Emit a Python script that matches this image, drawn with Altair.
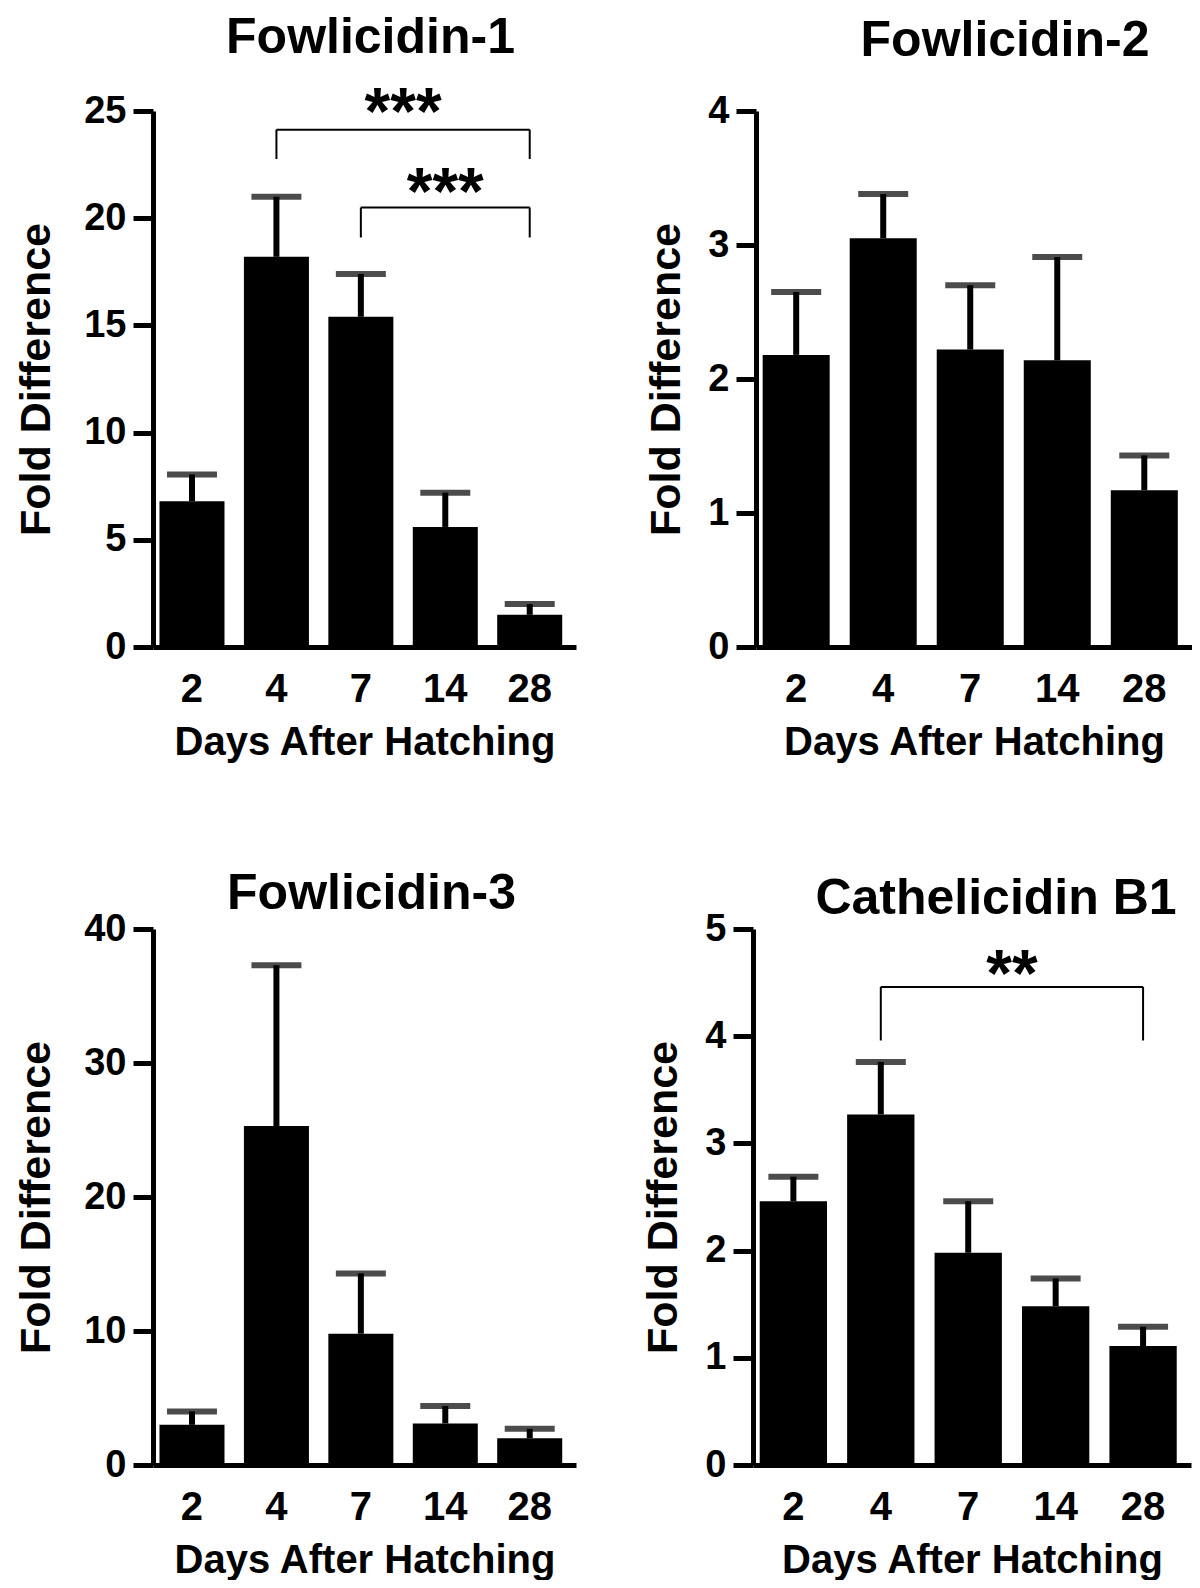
import altair as alt
import pandas as pd

days = ["2", "4", "7", "14", "28"]

f1_mean = [6.8, 18.2, 15.4, 5.6, 1.5]
f1_upper = [8.05, 21.0, 17.4, 7.2, 2.0]
f2_mean = [2.18, 3.05, 2.22, 2.14, 1.17]
f2_upper = [2.65, 3.38, 2.70, 2.91, 1.43]
f3_mean = [3.0, 25.3, 9.8, 3.1, 2.0]
f3_upper = [4.0, 37.3, 14.3, 4.4, 2.7]
b1_mean = [2.46, 3.27, 1.98, 1.48, 1.11]
b1_upper = [2.69, 3.76, 2.46, 1.74, 1.29]

# significance brackets: from day, to day, bracket level, drop level
f1_br_from = ["4", "7"]
f1_br_to = ["28", "28"]
f1_br_level = [24.13, 20.5]
f1_br_drop = [22.76, 19.1]
f1_star_day = ["7", "14"]
f1_star_level = [25.66, 21.9]
f1_star_text = ["***", "***"]
f1_star_half = [True, False]

b1_br_from = ["4"]
b1_br_to = ["28"]
b1_br_level = [4.46]
b1_br_drop = [3.96]
b1_star_day = ["7"]
b1_star_level = [4.72]
b1_star_text = ["**"]
b1_star_half = [True]

FONT = "Liberation Sans"


def panel(title, mean, upper, ymax, ystep, width, height, title_dx, title_offset,
          ytitle_pad, br=None, stars=None):
    df = pd.DataFrame({"day": days, "mean": mean, "upper": upper})
    xscale = alt.Scale(domain=days, paddingInner=0.23, paddingOuter=0.12, align=0.32)
    x = alt.X("day:N", sort=days, scale=xscale,
              axis=alt.Axis(title="Days After Hatching", ticks=False, labelAngle=0,
                            labelPadding=22, titlePadding=13, domainWidth=5,
                            domainColor="black", labelFontSize=40,
                            titleFontSize=40, labelFont=FONT, titleFont=FONT,
                            labelFontWeight="bold", titleFontWeight="bold",
                            labelColor="black", titleColor="black"))
    y = alt.Y("mean:Q", scale=alt.Scale(domain=[0, ymax], nice=False),
              axis=alt.Axis(title="Fold Difference", values=list(range(0, ymax + 1, ystep)),
                            format="d", tickSize=20, tickWidth=5, tickColor="black",
                            domainWidth=5, domainColor="black", labelPadding=7,
                            titlePadding=ytitle_pad, labelFontSize=38, labelFont=FONT,
                            labelFontWeight="bold", labelColor="black", titleFont=FONT,
                            titleFontSize=43, titleFontWeight="bold", titleColor="black",
                            grid=False))
    base = alt.Chart(df)
    bars = base.mark_bar(color="black").encode(x=x, y=y)
    stem = base.mark_rule(color="black", strokeWidth=6).encode(
        x=alt.X("day:N", sort=days), y="mean:Q", y2="upper:Q")
    cap = base.mark_tick(color="black", size=50, thickness=6).encode(
        x=alt.X("day:N", sort=days), y="upper:Q")
    layers = [bars, stem, cap]
    step = width / (5 - 0.23 + 0.24)
    if br is not None:
        frm, to, lvl, drop = br
        seg = pd.DataFrame({
            "x": frm + frm + to,
            "x2": to + frm + to,
            "y": lvl + lvl + lvl,
            "y2": lvl + drop + drop,
        })
        layers.append(alt.Chart(seg).mark_rule(color="black", strokeWidth=2).encode(
            x=alt.X("x:N", sort=days), x2="x2:N", y="y:Q", y2="y2:Q"))
    if stars is not None:
        sday, slvl, stxt, shalf = stars
        for d, l, t, h in zip(sday, slvl, stxt, shalf):
            sdf = pd.DataFrame({"day": [d], "lvl": [l], "txt": [t]})
            layers.append(alt.Chart(sdf).mark_text(
                font=FONT, fontWeight="bold", fontSize=66, baseline="middle",
                align="center", dy=17, dx=(step / 2 if h else 0), color="black").encode(
                x=alt.X("day:N", sort=days), y="lvl:Q", text="txt:N"))
    return alt.layer(*layers).properties(
        width=width, height=height,
        title=alt.TitleParams(title, font=FONT, fontSize=50, fontWeight="bold",
                              color="black", anchor="middle", dx=title_dx,
                              offset=title_offset))


p1 = panel("Fowlicidin-1", f1_mean, f1_upper, 25, 5, 423, 536, 6, 18, 25,
           br=(f1_br_from, f1_br_to, f1_br_level, f1_br_drop),
           stars=(f1_star_day, f1_star_level, f1_star_text, f1_star_half))
p2 = panel("Fowlicidin-2", f2_mean, f2_upper, 4, 1, 436, 536, 31, 26, 19)
p3 = panel("Fowlicidin-3", f3_mean, f3_upper, 40, 10, 423, 536, 7, -9, 25)
p4 = panel("Cathelicidin B1", b1_mean, b1_upper, 5, 1, 438, 536, 24, -14, 19,
           br=(b1_br_from, b1_br_to, b1_br_level, b1_br_drop),
           stars=(b1_star_day, b1_star_level, b1_star_text, b1_star_half))

top = alt.hconcat(p1, p2, spacing=69)
bottom = alt.hconcat(p3, p4, spacing=66)
chart = alt.vconcat(top, bottom, spacing=107).configure_view(strokeWidth=0).properties(
    padding={"left": 7, "top": 4, "right": 0, "bottom": 0}, background="white")

chart.save("out.html", embed_options={"renderer": "svg", "actions": False})
